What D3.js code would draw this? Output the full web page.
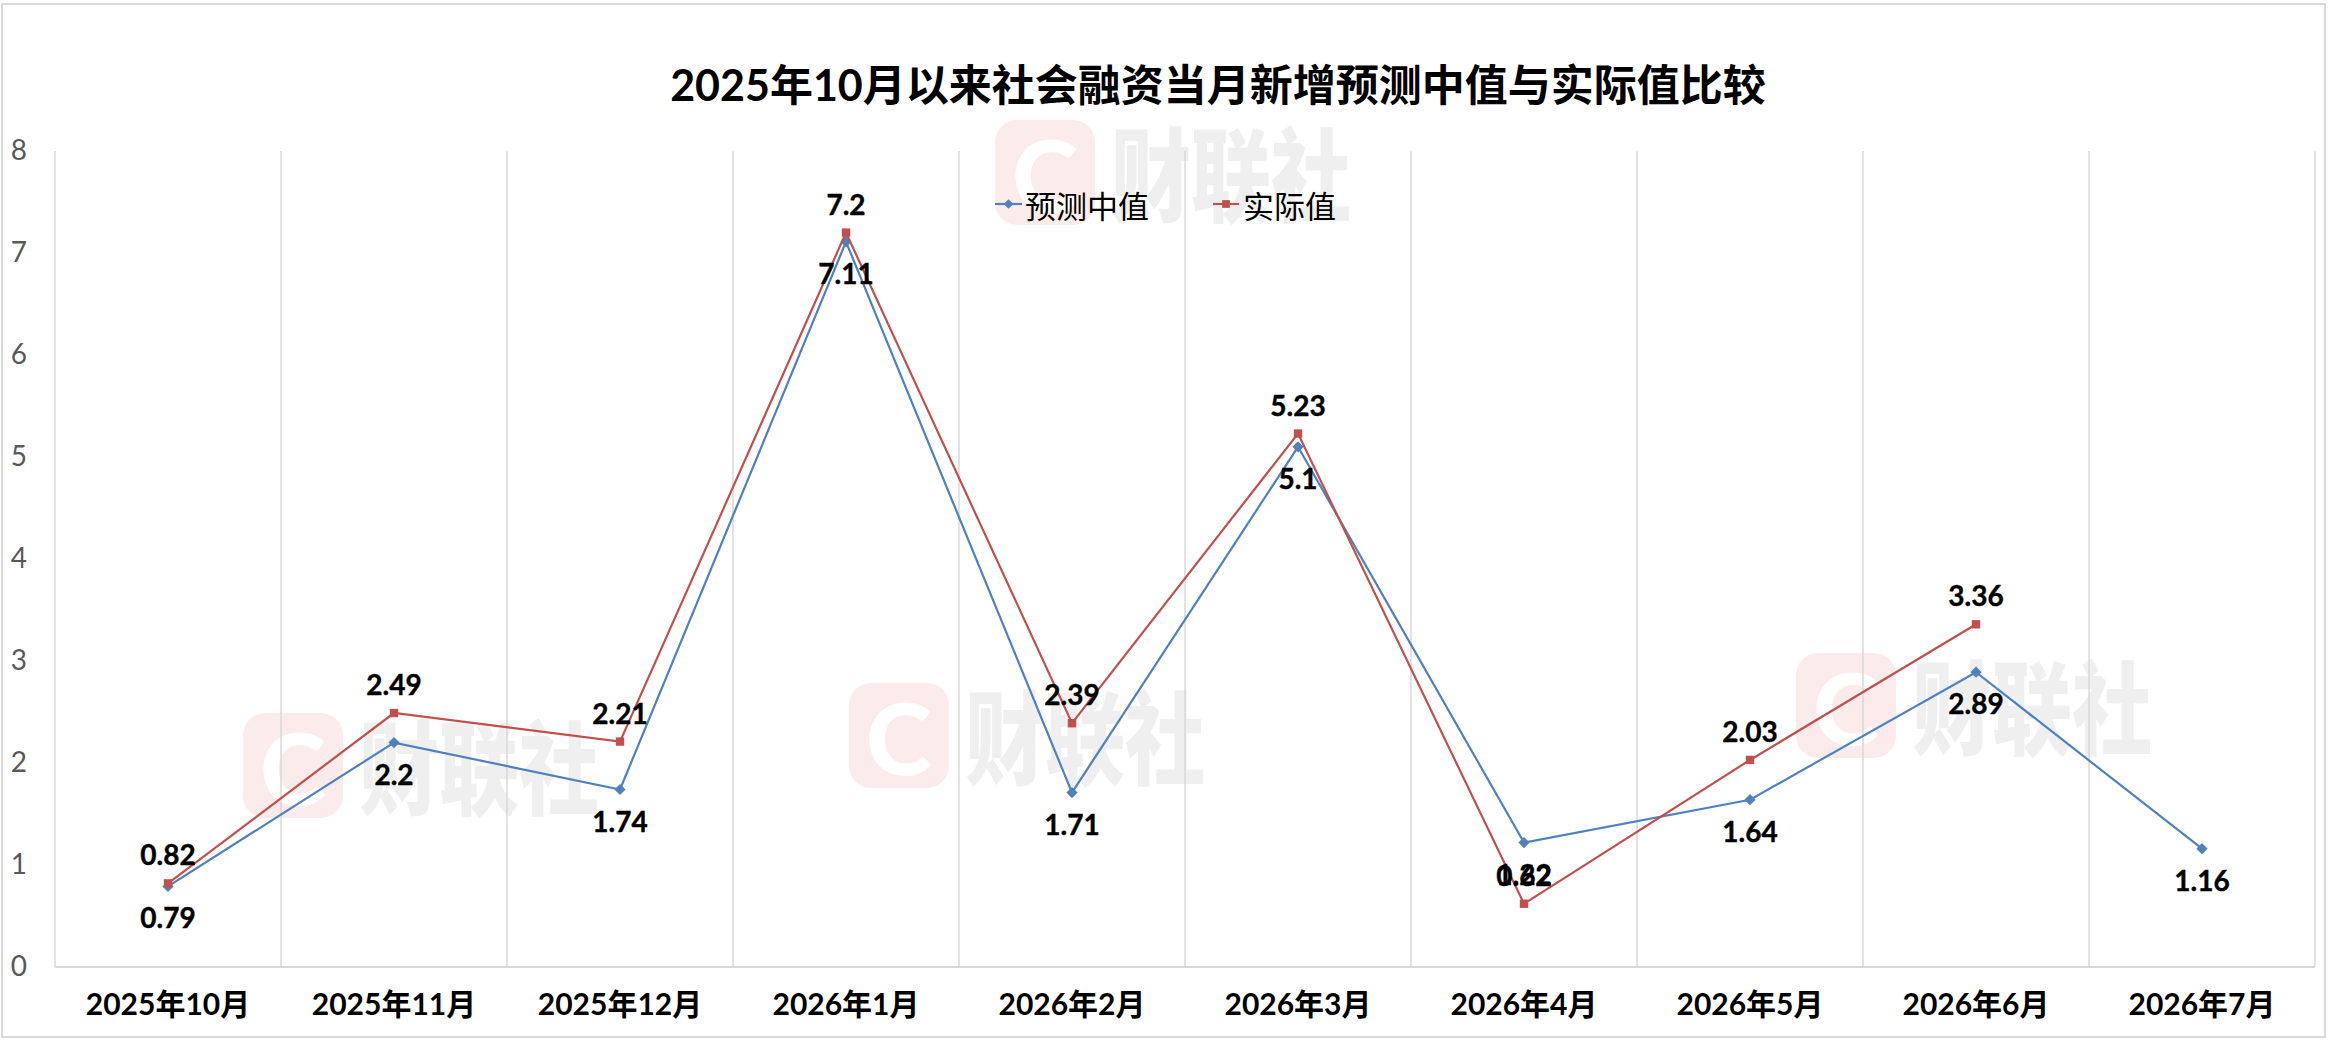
<!DOCTYPE html>
<html>
<head>
<meta charset="utf-8">
<script src="https://cdn.jsdelivr.net/npm/d3@7/dist/d3.min.js"></script>
<style>
  html, body { margin: 0; padding: 0; background: #fff; }
  svg { display: block; }
</style>
</head>
<body>
<svg id="chart" width="2328" height="1040"></svg>
<script>
const categories = ["2025年10月","2025年11月","2025年12月","2026年1月","2026年2月","2026年3月","2026年4月","2026年5月","2026年6月","2026年7月"];
const forecastValues = [0.79, 2.2, 1.74, 7.11, 1.71, 5.1, 1.22, 1.64, 2.89, 1.16];
const actualValues = [0.82, 2.49, 2.21, 7.2, 2.39, 5.23, 0.62, 2.03, 3.36, null];
const yTicks = [0,1,2,3,4,5,6,7,8];
const seriesNames = ["预测中值", "实际值"];
const titleText = "2025年10月以来社会融资当月新增预测中值与实际值比较";
const watermarkText = "财联社";

const W = 2328, H = 1040;
const plot = {left: 55, right: 2315, top: 151, bottom: 967};
const BLUE = "#4F81BD", RED = "#C0504D";
const LATIN_CJK = "Lato, 'Noto Sans CJK SC', sans-serif";

const svg = d3.select("#chart");

// chart area border
svg.append("rect").attr("x", 2).attr("y", 4).attr("width", W - 5).attr("height", H - 7)
  .attr("fill", "#fff").attr("stroke", "#D9D9D9").attr("stroke-width", 2);

// watermarks
const marks = [[995,120],[849,683],[243,713],[1796,653]];
const wm = svg.append("g");
marks.forEach(([mx,my]) => {
  const g = wm.append("g").attr("transform", `translate(${mx},${my})`);
  g.append("rect").attr("width", 100).attr("height", 105).attr("rx", 22)
    .attr("fill", "#FBEBEB");
  g.append("text").attr("x", 50).attr("y", 53).attr("text-anchor", "middle")
    .attr("dominant-baseline", "central")
    .attr("font-family", "Lato, sans-serif").attr("font-weight", 900)
    .attr("font-size", 100).attr("fill", "#ffffff").text("C");
  g.append("text").attr("transform", "translate(116,94) scale(0.8,1.02)")
    .attr("font-family", "'Noto Sans CJK SC', sans-serif").attr("font-weight", 900)
    .attr("font-size", 100).attr("fill", "#EFEFEF").text(watermarkText);
});

const x = d3.scaleBand().domain(categories).range([plot.left, plot.right]).padding(0);
const y = d3.scaleLinear().domain([0, 8]).range([plot.bottom, plot.top]);
const cx = c => x(c) + x.bandwidth() / 2;

// vertical gridlines at category boundaries
const bounds = categories.map(c => x(c)).concat([x.range()[1]]);
svg.append("g").selectAll("line").data(bounds).join("line")
  .attr("x1", d => d).attr("x2", d => d)
  .attr("y1", y(8)).attr("y2", y(0))
  .attr("stroke", "#D9D9D9").attr("stroke-width", 1.5);

// bottom axis line
svg.append("line").attr("x1", plot.left).attr("x2", plot.right)
  .attr("y1", y(0)).attr("y2", y(0))
  .attr("stroke", "#D9D9D9").attr("stroke-width", 2);

// y axis labels
const yAxis = svg.append("g").attr("transform", "translate(27,0)")
  .call(d3.axisLeft(y).tickValues(yTicks).tickSize(0).tickPadding(0).tickFormat(d3.format("d")));
yAxis.select(".domain").remove();
yAxis.selectAll("text").attr("font-family", "Lato, sans-serif").attr("font-size", 28)
  .attr("fill", "#595959");

// x axis labels
const xAxis = svg.append("g").attr("transform", `translate(0,${y(0)})`)
  .call(d3.axisBottom(x).tickSize(0).tickPadding(0));
xAxis.select(".domain").remove();
xAxis.selectAll("text").attr("y", 37).attr("dy", "0.35em")
  .attr("font-family", LATIN_CJK).attr("font-weight", 700).attr("font-size", 30)
  .attr("fill", "#000");

// title
svg.append("text").attr("x", 1218).attr("y", 84).attr("text-anchor", "middle")
  .attr("dominant-baseline", "central")
  .attr("font-family", LATIN_CJK).attr("font-weight", 700).attr("font-size", 43)
  .attr("fill", "#000").text(titleText);

// lines
function drawSeries(values, color, shape) {
  const pts = categories.map((c, i) => ({c, v: values[i]})).filter(d => d.v != null);
  const line = d3.line().x(d => cx(d.c)).y(d => y(d.v));
  svg.append("path").datum(pts).attr("d", line).attr("fill", "none")
    .attr("stroke", color).attr("stroke-width", 2.2);
  const sym = d3.symbol().type(shape === "square" ? d3.symbolSquare : d3.symbolDiamond2)
    .size(shape === "square" ? 70 : 80);
  svg.append("g").selectAll("path").data(pts).join("path")
    .attr("transform", d => `translate(${cx(d.c)},${y(d.v)})`)
    .attr("d", sym).attr("fill", color);
  return pts;
}
const bluePts = drawSeries(forecastValues, BLUE, "diamond");
const redPts = drawSeries(actualValues, RED, "square");

// data labels
function labels(pts, offset) {
  svg.append("g").selectAll("text").data(pts).join("text")
    .attr("x", d => cx(d.c)).attr("y", d => y(d.v) + offset)
    .attr("text-anchor", "middle").attr("dominant-baseline", "central")
    .attr("font-family", "Lato, sans-serif").attr("font-weight", 700).attr("font-size", 28)
    .attr("fill", "#000").attr("stroke", "#000").attr("stroke-width", 0.4)
    .text(d => String(d.v));
}
labels(bluePts, 31);
labels(redPts, -29);

// legend
const legend = svg.append("g");
const legendItems = [
  {name: seriesNames[0], color: BLUE, shape: d3.symbolDiamond2, size: 60, x0: 995, x1: 1022, tx: 1025},
  {name: seriesNames[1], color: RED, shape: d3.symbolSquare, size: 60, x0: 1213, x1: 1239, tx: 1243}
];
legendItems.forEach(it => {
  legend.append("line").attr("x1", it.x0).attr("x2", it.x1).attr("y1", 204).attr("y2", 204)
    .attr("stroke", it.color).attr("stroke-width", 2.2);
  legend.append("path").attr("transform", `translate(${(it.x0 + it.x1) / 2},204)`)
    .attr("d", d3.symbol().type(it.shape).size(it.size)).attr("fill", it.color);
  legend.append("text").attr("x", it.tx).attr("y", 204).attr("dominant-baseline", "central")
    .attr("font-family", "'Noto Sans CJK SC', sans-serif").attr("font-size", 31)
    .attr("fill", "#000").text(it.name);
});
</script>
</body>
</html>
